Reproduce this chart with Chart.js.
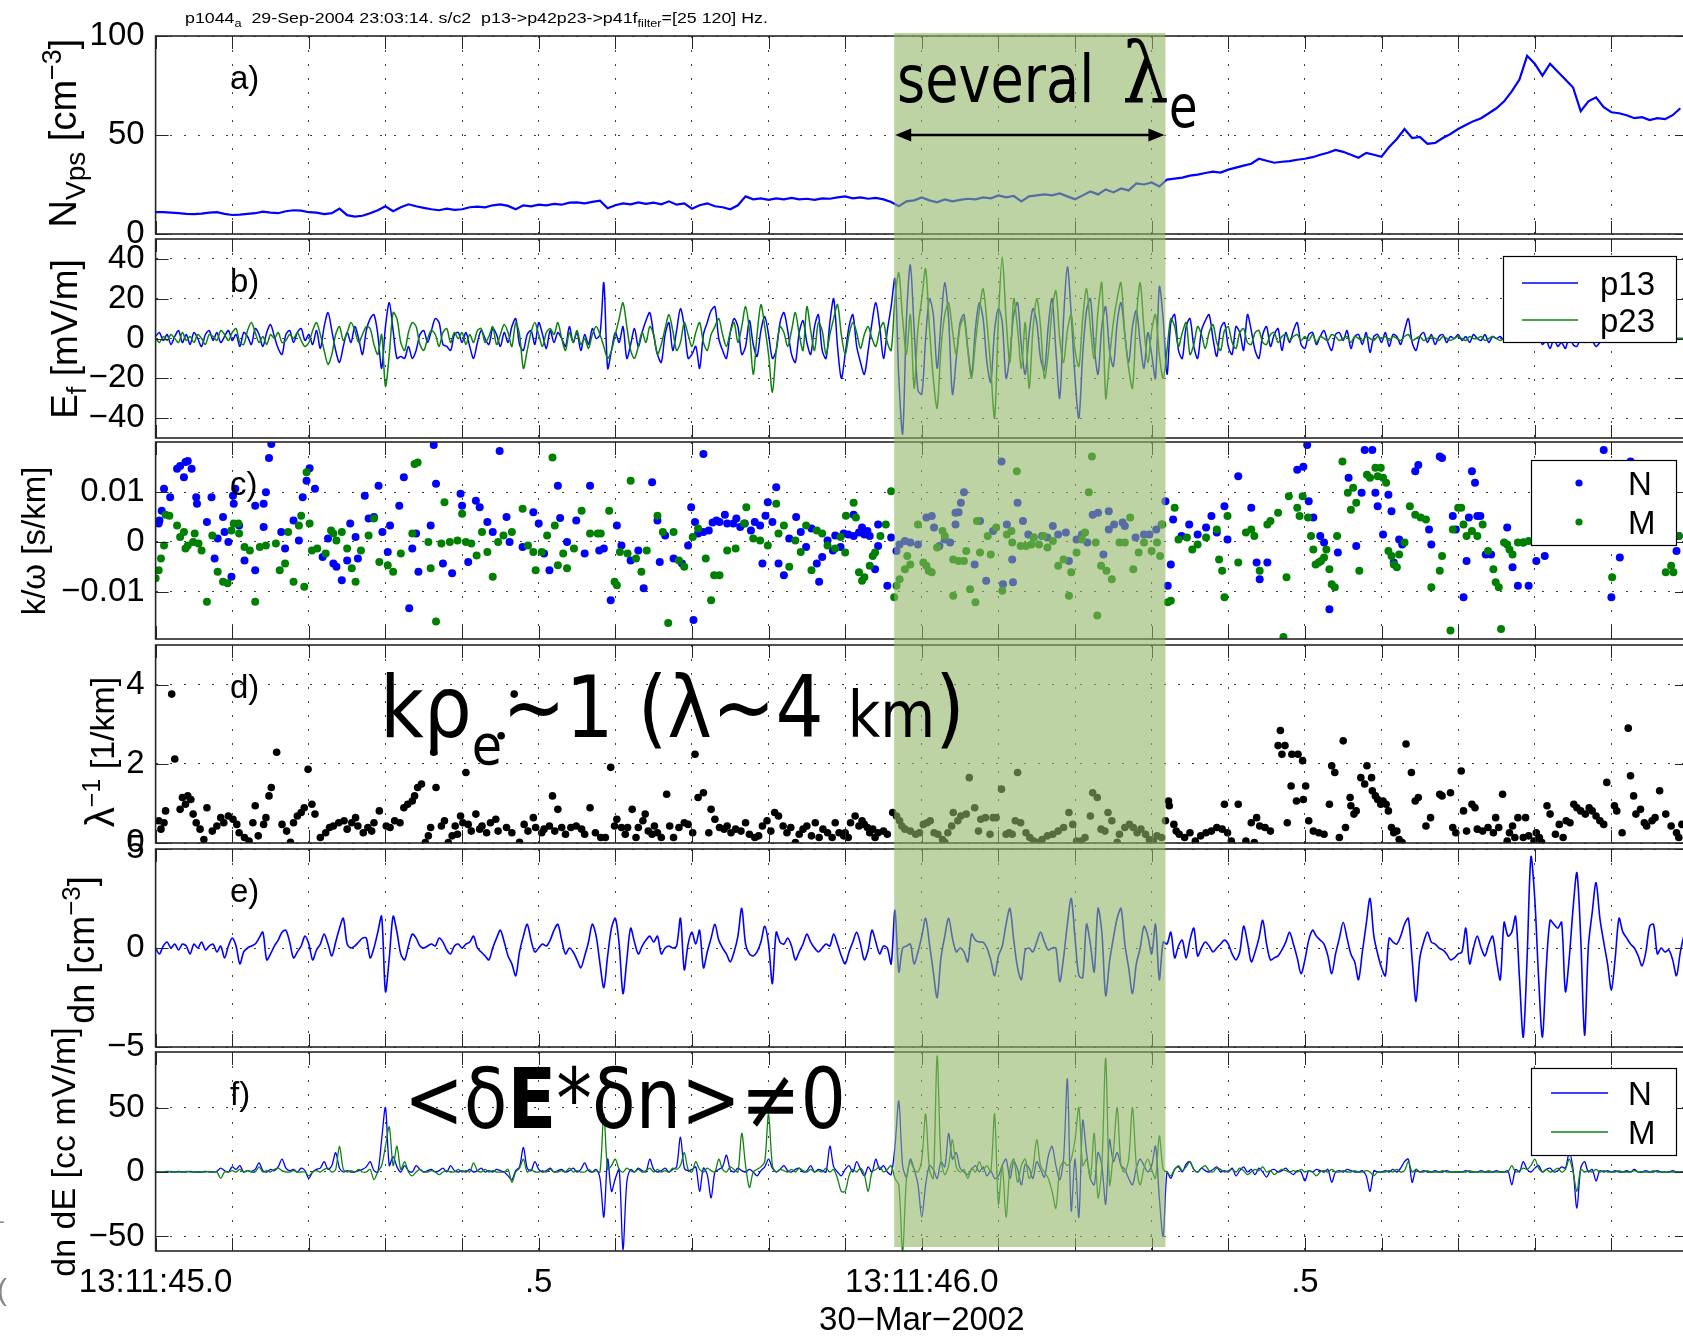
<!DOCTYPE html>
<html><head><meta charset="utf-8">
<script src="https://cdn.jsdelivr.net/npm/chart.js@4.4.1/dist/chart.umd.min.js"></script>
<style>
html,body{margin:0;padding:0;background:#fff;overflow:hidden;width:1683px;height:1337px;}
#root{position:relative;width:1683px;height:1337px;overflow:hidden;background:#fff;}
</style></head>
<body><div id="root"></div>
<script>
// ---------------- DATA ----------------
const xTickVals = [0, 0.5, 1.0, 1.5];
const xTickText = ['13:11:45.0', '.5', '13:11:46.0', '.5'];
const xTitle = '30\u2212Mar\u22122002';
const bandStart = 0.964, bandEnd = 1.318;

const aTicks = [0, 50, 100];           const aLabels = ['0', '50', '100'];
const bTicks = [-40, -20, 0, 20, 40];  const bLabels = ['\u221240', '\u221220', '0', '20', '40'];
const cTicks = [-0.01, 0, 0.01];       const cLabels = ['\u22120.01', '0', '0.01'];
const dTicks = [0, 2, 4];              const dLabels = ['0', '2', '4'];
const eTicks = [-5, 0, 5];             const eLabels = ['\u22125', '0', '5'];
const fTicks = [-50, 0, 50];           const fLabels = ['\u221250', '0', '50'];

const aStep = 0.01;   // s, density samples
const wStep = 0.005;  // s, waveform samples

// a) N_Vps [cm^-3]
const nVps = [
11.0,11.0,10.8,10.5,10.2,10.0,10.3,10.8,11.0,10.2,
9.6,9.8,10.2,10.5,11.3,10.8,10.5,11.5,12.0,11.8,
11.0,10.8,10.0,10.5,12.8,9.5,8.8,9.2,10.5,12.0,
14.0,11.5,13.5,15.0,14.0,13.2,12.5,12.0,12.8,12.2,
12.5,13.5,13.8,13.5,14.5,15.0,14.2,12.5,14.5,14.0,
14.8,14.5,15.2,14.8,15.8,16.0,15.5,16.2,16.8,13.0,
14.5,15.5,15.0,16.0,15.2,15.8,15.0,16.5,14.8,15.5,
12.8,14.5,15.5,14.0,13.5,12.5,14.5,19.0,17.5,18.0,
17.2,18.0,17.5,18.2,17.5,17.8,17.2,18.0,17.8,18.5,
19.0,18.0,18.5,17.8,18.2,17.5,16.2,14.0,16.5,17.0,
18.5,17.0,16.0,17.5,16.5,17.2,17.8,17.5,18.5,18.0,
19.5,18.5,19.2,16.5,19.0,19.5,20.0,19.5,20.5,19.0,
17.5,19.5,21.5,20.0,22.5,21.0,23.0,22.0,25.5,25.0,
26.0,24.0,27.5,28.0,28.5,29.5,30.0,30.8,31.5,31.0,
32.5,33.5,34.5,35.5,38.0,37.0,36.0,36.5,36.8,37.5,
38.0,38.8,40.0,41.0,42.5,41.5,40.0,38.5,41.0,40.0,
39.0,44.0,48.0,53.0,48.5,49.0,45.5,46.0,48.5,50.5,
53.0,55.0,57.0,58.5,61.0,63.5,67.0,72.0,78.0,90.0,
86.0,80.0,86.0,82.0,78.0,74.0,62.0,67.0,69.0,64.0,
61.5,61.0,60.0,58.5,59.0,57.5,58.5,58.0,60.0,63.5];

// b) E_f [mV/m]
const p13 = [
1,3,-1,2,-3,1,4,-2,2,-3,3,0,-4,2,4,-1,3,-2,1,4,
-1,2,-4,3,1,-3,5,2,-4,3,7,1,-5,-8,2,4,-2,3,5,-1,
2,-3,4,-5,6,13,4,-6,-12,-4,3,-2,6,0,-8,4,10,12,2,-15,
6,18,4,-10,-9,-10,-4,-10,-6,2,4,-2,4,10,8,-3,-4,-6,2,3,
-2,3,-4,-10,-2,4,0,-3,5,2,-4,3,-2,6,10,-3,-6,2,4,-3,
8,2,-5,4,-2,3,0,-4,6,-2,3,-6,2,-3,5,0,2,28,-15,-6,
3,-2,6,-10,-3,5,-4,3,9,13,2,-8,-12,2,8,-6,4,15,6,-10,
-8,-4,-15,2,8,14,16,0,-6,-10,3,10,6,-8,-4,9,-3,-9,4,11,
2,-10,-6,8,13,4,-8,-12,3,9,-2,-8,6,12,-6,-10,8,20,-4,-20,
-8,6,12,-4,-12,-18,-6,8,18,6,-10,4,16,30,-20,-48,10,37,5,-26,
-28,0,20,12,-15,8,28,10,-28,-10,8,12,-5,-18,5,18,10,-12,-22,4,
15,8,-20,-8,12,18,-4,-18,2,15,8,-10,-16,6,20,-6,-30,10,36,12,
-20,-40,-8,14,20,-4,-18,6,16,-6,-14,8,18,2,-12,6,14,-2,-15,3,
-8,-20,26,10,-18,8,12,-6,-10,6,10,-4,-10,4,9,12,0,-9,5,8,
-4,-8,6,3,-6,12,4,-6,-10,2,6,-4,2,5,-6,3,-2,4,8,-3,
-5,2,3,-3,1,4,-2,-6,2,3,-1,4,-5,1,2,-3,3,-7,1,2,
-2,3,-4,2,1,-3,4,10,-2,-6,1,3,-2,2,-3,1,2,-2,1,0,
2,-1,1,-2,2,0,-1,2,-2,1,0,1,-1,2,-1,0,1,-2,1,0,
-1,1,-3,-1,-5,0,-4,-2,-5,1,-3,-4,0,-2,1,-1,-4,-2,0,1,
-1,1,0,-1,1,0,-1,1,0,1,-1,0,1,0,-1,0,1,0,0,0];
const p23 = [
0,-2,1,-1,2,0,-2,3,-1,1,-2,2,0,-3,2,1,-1,4,2,-1,
3,5,-2,-3,4,8,3,-2,1,-3,2,0,3,-2,-1,2,0,3,-1,-4,
-2,4,8,2,-6,-13,-8,2,6,-1,3,8,4,-2,2,6,5,-3,-8,2,
-24,-8,13,10,-2,-6,3,8,6,-3,-6,0,4,2,-4,3,5,-2,3,0,
3,-3,2,-2,4,5,-2,1,6,-3,2,7,3,-4,8,2,-15,-6,3,8,
2,-4,3,5,2,8,0,-6,3,-2,4,-3,0,-5,2,6,2,-4,-10,-6,
2,10,18,6,-6,-10,-4,3,-2,6,2,-8,-3,5,12,4,-6,-2,8,2,
-4,3,8,-2,-6,2,6,10,2,-4,3,8,-2,6,16,4,-18,2,17,6,
-8,-27,-6,6,3,-4,4,13,2,-6,16,4,-6,8,4,-8,2,10,17,2,
-8,2,8,3,-5,2,6,0,-4,4,8,-2,-6,20,33,10,-8,12,-25,5,
20,35,5,-20,-35,-5,12,18,4,-8,6,10,-6,-20,-2,14,25,8,-15,-40,
10,41,10,-12,20,5,-15,8,-25,4,20,6,-20,-8,14,24,0,-12,4,12,
-6,-14,10,25,6,-10,14,28,-30,-10,8,20,28,2,-15,-25,10,28,5,-12,
4,12,-8,-20,-6,10,6,-4,3,8,-8,-3,6,2,-5,3,7,-2,-6,4,
6,-2,-5,3,5,-2,-3,3,4,-2,-3,2,3,-2,1,2,-1,1,2,-1,
1,-1,2,-2,1,0,-1,2,1,-1,0,1,-2,1,0,-1,1,0,-1,1,
0,1,-1,1,0,-1,1,2,-1,0,1,-1,0,1,0,-1,1,0,-1,0,
1,0,-1,1,0,0,1,-1,0,1,0,-1,0,1,0,0,-1,1,0,0,
1,0,-1,0,1,0,-1,0,1,0,-1,0,1,0,0,-1,0,1,0,0,
0,1,0,-1,0,1,0,0,-1,0,1,0,0,-1,0,1,0,0,0,0];

// c) k/omega [s/km]  [time s, value]
const kwN = [[.004,.0037],[.005,.0043],[.008,.0063],[.011,.0107],[.019,.009],[.028,.0147],[.032,.0153],[.037,.013],[.039,.0161],[.042,.0163],[.047,.0147],[.053,.009],[.054,.0077],[.067,.004],[.073,.009],[.077,-.0033],[.081,.0007],[.088,.005],[.09,.002],[.095,0],[.099,-.007],[.101,.0093],[.102,.0077],[.104,.0107],[.109,.0033],[.116,-.0037],[.13,-.0057],[.13,.0073],[.141,.0077],[.144,.01],[.148,.0169],[.151,.0197],[.141,.003],[.164,.002],[.169,-.0013],[.18,.0043],[.187,.0003],[.192,.009],[.197,.0123],[.201,.0148],[.208,.0107],[.218,-.003],[.225,.0007],[.232,-.0043],[.236,-.005],[.243,-.0077],[.25,-.0037],[.254,.0037],[.261,.001],[.264,-.0033],[.273,.0093],[.278,.0047],[.285,.005],[.291,.0113],[.296,.002],[.303,-.002],[.306,.0033],[.318,.0073],[.324,.013],[.331,-.0133],[.335,-.0013],[.34,.0017],[.343,-.006],[.359,.0033],[.363,.0195],[.366,.0117],[.375,-.0043],[.387,-.0063],[.398,.0097],[.4,.0073],[.408,-.004],[.418,.0083],[.423,.007],[.433,.004],[.44,.002],[.449,.0183],[.458,.005],[.462,0],[.479,-.001],[.493,.006],[.5,.0037],[.507,-.0023],[.514,-.0057],[.525,.0113],[.528,.0048],[.537,0],[.549,.0043],[.56,-.0023],[.567,.0113],[.579,-.0017],[.585,-.0013],[.594,-.0117],[.602,.0033],[.608,-.0007],[.62,-.0037],[.63,-.0017],[.637,-.0093],[.648,.012],[.655,.0043],[.658,-.004],[.665,.0013],[.676,-.0033],[.687,-.0043],[.695,-.0007],[.699,.007],[.702,-.0157],[.704,.004],[.708,.0017],[.715,.0177],[.715,.002],[.722,.0023],[.727,.0039],[.732,.0043],[.736,.004],[.743,.0055],[.746,.0037],[.754,.0037],[.758,.0047],[.763,.003],[.769,.0037],[.777,.0023],[.782,.004],[.789,.0033],[.792,-.0043],[.796,.0053],[.799,.008],[.805,.004],[.81,.011],[.813,-.0043],[.82,-.0067],[.827,.0007],[.836,.005],[.842,.002],[.849,-.001],[.856,.0027],[.863,-.0043],[.866,-.008],[.87,-.003],[.877,.0003],[.884,-.0017],[.887,.0013],[.894,-.001],[.898,.0017],
[.904,.0015],[.911,.0055],[.911,.0012],[.918,.0019],[.922,.0029],[.925,.0015],[.929,.0022],[.932,.0012],[.939,-.0055],[.943,-.0008],[.943,.0035],[.955,-.0088],[.96,.0009],[.967,-.0018],[.971,-.0005],[.978,.0002],[.985,-.0001],[.995,-.0005],[1.006,.0049],[1.013,.0052],[1.016,.0029],[1.023,-.0008],[1.03,.0005],[1.037,-.0001],[1.044,.0059],[1.048,.006],[1.051,.0079],[1.055,.01],[1.044,.0035],[1.069,-.0045],[1.076,.0042],[1.084,-.0078],[1.093,.0022],[1.104,.0162],[1.106,-.0085],[1.111,.0035],[1.118,-.0035],[1.119,-.0081],[1.125,.0079],[1.132,.0042],[1.139,.0015],[1.146,.0009],[1.157,.0012],[1.164,.0009],[1.171,.0032],[1.178,.0015],[1.188,.0019],[1.192,-.0038],[1.202,.0005],[1.209,.0015],[1.216,-.0001],[1.223,.0055],[1.23,.0059],[1.237,-.0025],[1.244,.0062],[1.244,.0025],[1.251,.0035],[1.262,.0039],[1.265,.0032],[1.279,.0009],[1.29,.0015],[1.297,.0015],[1.306,.0025],[1.313,.0035],[1.318,.0082],[1.321,-.0088],[1.325,-.0045],[1.328,.0045],[1.339,.0012],[1.349,.0035],[1.36,.0015],[1.371,.0029],[1.378,.0052],[1.385,.0019],[1.395,.0072],[1.399,.0005],[1.413,.0132],[1.43,.0069],[1.437,-.0041],[1.441,-.0075],[1.451,-.0041],[1.49,.0145],[1.498,.0151],[1.503,.0195],[1.505,.0082],[1.511,.0049],[1.52,.0012],[1.525,-.0001],[1.532,-.0135],[1.543,-.0021],[1.557,.0129],[1.567,-.0008],[1.574,.0099],[1.578,.0185],[1.588,.0185],[1.592,.0099],[1.595,.0072],[1.602,.0015],[1.609,.0095],[1.613,.0062],[1.616,-.0041],[1.623,.0005],[1.627,-.0005],[1.644,.0142],[1.648,.0155],[1.662,.0025],[1.665,-.0005],[1.676,.0172],[1.679,.0169],[1.693,.0052],[1.697,.0025],[1.707,-.0111],[1.711,-.0038],[1.714,.0049],[1.718,.0142],[1.722,.0119],[1.725,.0052],[1.729,.0052],[1.736,-.0025],[1.743,-.0025],[1.764,.0029],[1.771,-.0051],[1.778,-.0088],[1.785,-.0001],[1.792,-.0088],[1.802,-.0038],[1.813,-.0028],[1.89,.0185],[1.9,-.0111],[1.911,-.0031],[1.925,.0162],[1.985,-.0018],[1.988,.0012]];
const kwM = [[0,-.0073],[.004,-.0057],[.007,-.0033],[.011,-.0007],[.013,.0055],[.018,.0053],[.028,.0033],[.032,.001],[.037,.002],[.039,-.0013],[.042,-.0007],[.049,0],[.051,.0017],[.056,-.0003],[.06,-.0017],[.067,-.012],[.074,.0013],[.081,-.006],[.088,-.008],[.094,-.0083],[.099,.0023],[.102,.0037],[.108,.0037],[.109,.0017],[.116,-.001],[.123,-.0017],[.13,-.012],[.136,-.001],[.144,-.0007],[.157,-.0003],[.162,-.0057],[.169,-.0043],[.173,.002],[.18,-.008],[.187,.0033],[.19,.0053],[.194,-.009],[.197,.014],[.201,.0037],[.204,-.0017],[.211,-.0013],[.222,-.0023],[.229,.0023],[.232,.0017],[.236,.0003],[.243,.002],[.25,-.0013],[.256,-.0053],[.261,-.008],[.268,-.0017],[.278,.0013],[.285,.0047],[.292,-.004],[.303,-.0047],[.31,-.006],[.32,-.0023],[.335,.0017],[.338,.0157],[.342,.016],[.356,0],[.359,-.0053],[.366,-.016],[.373,-.0003],[.377,.008],[.384,0],[.394,.0003],[.4,.0057],[.405,0],[.412,-.0003],[.419,-.0027],[.426,.002],[.433,-.002],[.44,-.007],[.447,0],[.454,.0013],[.465,.002],[.479,.0067],[.486,-.0007],[.493,-.002],[.496,-.0057],[.504,-.002],[.511,.0013],[.518,.017],[.521,.0033],[.525,-.0047],[.532,-.0023],[.537,-.0053],[.546,-.0013],[.556,.0063],[.567,.0017],[.577,.0017],[.581,.0017],[.592,.0063],[.599,-.008],[.602,-.0087],[.606,-.002],[.616,-.0023],[.62,.0123],[.627,-.0033],[.634,-.006],[.641,-.0017],[.655,.0053],[.662,.002],[.669,-.0163],[.676,.002],[.683,-.0037],[.69,-.005],[.701,.001],[.708,.0027],[.718,-.0033],[.725,-.0117],[.729,-.0067],[.736,-.0067],[.746,-.0017],[.757,-.0013],[.768,.0037],[.771,.007],[.78,.0007],[.789,.0003],[.799,-.0007],[.81,.0077],[.813,.0017],[.82,.0033],[.827,-.005],[.835,.0003],[.842,-.002],[.849,.0033],[.856,-.0057],[.863,.0023],[.87,.0017],[.877,-.0007],[.887,-.0013],[.894,.001],[.901,.0053],
[.9,-.0021],[.911,.0079],[.914,.0049],[.918,-.0061],[.922,-.0078],[.925,-.0071],[.932,-.0048],[.936,-.0028],[.939,-.0021],[.946,.0012],[.953,.0035],[.96,.0102],[.964,-.0111],[.967,-.0088],[.971,-.0075],[.978,-.0055],[.981,-.0028],[.985,-.0045],[.995,.0035],[1.002,-.0041],[1.006,-.0048],[1.009,-.0058],[1.013,-.0061],[1.02,-.0011],[1.027,.0022],[1.03,.0012],[1.041,-.0108],[1.041,-.0035],[1.048,-.0038],[1.055,-.0038],[1.058,-.0018],[1.063,-.0095],[1.07,-.0121],[1.072,.0042],[1.076,-.0021],[1.086,.0012],[1.09,-.0025],[1.097,.0029],[1.105,-.0098],[1.111,.0015],[1.117,.0022],[1.118,-.0001],[1.124,.0142],[1.129,-.0008],[1.136,-.0008],[1.143,-.0005],[1.146,.0009],[1.153,-.0005],[1.159,.0012],[1.164,-.0011],[1.171,.0002],[1.178,-.0048],[1.185,-.0035],[1.192,-.0108],[1.195,-.0061],[1.202,-.0021],[1.209,.0005],[1.213,.0019],[1.218,.01],[1.222,.0172],[1.227,-.0001],[1.229,-.0148],[1.234,-.0048],[1.241,-.0058],[1.248,-.0075],[1.258,-.0001],[1.265,-.0001],[1.272,.0049],[1.276,-.0055],[1.283,-.0021],[1.29,-.0001],[1.3,-.0018],[1.307,-.0001],[1.311,-.0028],[1.314,.0035],[1.321,-.0121],[1.325,-.0118],[1.33,.0069],[1.335,.0005],[1.346,.0009],[1.353,-.0015],[1.36,-.0005],[1.371,.0009],[1.385,.0025],[1.388,-.0035],[1.392,-.0058],[1.395,-.0111],[1.399,.0052],[1.413,-.0041],[1.423,.0019],[1.43,.0025],[1.434,.0012],[1.441,-.0058],[1.451,.0035],[1.455,.0042],[1.465,.0059],[1.472,-.0191],[1.476,-.0071],[1.479,.0092],[1.49,.0069],[1.493,.0052],[1.497,.0092],[1.504,.0049],[1.508,.0012],[1.511,-.0015],[1.514,-.0045],[1.518,-.0041],[1.521,-.0038],[1.525,-.0031],[1.528,-.0015],[1.532,-.0055],[1.535,-.0085],[1.539,-.0091],[1.542,.0012],[1.549,.0162],[1.556,.0099],[1.56,.0065],[1.563,.0109],[1.567,.0079],[1.571,-.0058],[1.581,.0135],[1.585,.0129],[1.592,.0149],[1.595,.0132],[1.599,.0149],[1.602,.0129],[1.606,.0119],[1.609,-.0018],[1.613,-.0028],[1.616,-.0045],[1.62,-.0051],[1.623,-.0025],[1.63,-.0001],[1.637,.0072],[1.644,.0055],[1.651,.0049],[1.658,.0045],[1.665,-.0091],[1.676,-.0058],[1.679,-.0028],[1.69,-.0178],[1.693,.0025],[1.7,.0069],[1.704,.0069],[1.707,.0035],[1.711,.0012],[1.718,.0022],[1.725,.0012],[1.732,.0035],[1.739,-.0018],[1.746,-.0055],[1.749,-.0081],[1.753,-.0091],[1.756,-.0175],[1.76,-.0001],[1.764,-.0005],[1.767,-.0015],[1.771,-.0025],[1.778,-.0001],[1.785,-.0001],[1.792,.0002],[1.901,-.0071],[1.971,-.0061],[1.978,-.0048],[1.981,-.0061],[1.988,.0012]];

// d) lambda^-1 [1/km]  [time s, value]
const lamInv = [[.004,.56],[.007,.35],[.011,.51],[.013,.81],[.021,3.76],[.025,2.12],[.032,.85],[.035,1.15],[.039,.98],[.042,1.19],[.046,1.1],[.049,.73],[.053,.51],[.058,.35],[.063,.09],[.067,.89],[.074,.3],[.08,.43],[.085,.64],[.089,.51],[.095,.68],[.101,.6],[.106,.47],[.109,.26],[.116,.14],[.122,.05],[.127,.51],[.13,.94],[.134,.18],[.141,.47],[.144,.64],[.148,1.19],[.151,1.4],[.158,2.29],[.165,.47],[.171,.3],[.176,.02],[.18,.51],[.185,.68],[.19,.77],[.194,.89],[.199,1.86],[.204,.98],[.208,.73],[.215,.14],[.222,.26],[.227,.39],[.232,.43],[.239,.51],[.246,.56],[.25,.35],[.256,.51],[.261,.64],[.264,.43],[.271,.26],[.277,.39],[.282,.3],[.285,.51],[.292,.81],[.301,.43],[.306,.39],[.312,.56],[.319,.51],[.324,.89],[.329,.98],[.335,1.06],[.338,1.19],[.342,1.4],[.347,1.49],[.352,.01],[.356,.18],[.359,.39],[.363,2.29],[.366,1.4],[.373,.43],[.377,.56],[.382,.01],[.387,.18],[.391,.43],[.394,.22],[.398,.68],[.401,.51],[.405,1.78],[.408,.47],[.412,.3],[.418,.73],[.423,.35],[.426,.43],[.432,.26],[.437,.51],[.444,.6],[.447,.3],[.451,2.71],[.458,.39],[.465,.26],[.468,3.76],[.475,.02],[.481,.47],[.486,.3],[.493,.64],[.496,.39],[.504,.26],[.507,.35],[.514,.43],[.518,1.19],[.521,.3],[.525,.85],[.53,.39],[.535,.22],[.542,.39],[.549,.43],[.556,.35],[.56,.22],[.567,.89],[.574,.26],[.581,.14],[.587,.14],[.594,1.91],[.599,.43],[.602,.6],[.608,.39],[.613,.22],[.616,.39],[.622,.85],[.627,.14],[.63,.39],[.636,.56],[.639,.73],[.643,.3],[.648,.22],[.651,.43],[.655,.26],[.66,.14],[.667,1.23],[.671,.43],[.676,.14],[.683,.39],[.69,.51],[.695,.47],[.701,.26],[.704,2.24],[.708,1.15],[.715,1.27],[.722,.26],[.725,.85],[.73,.6],[.736,.39],[.742,.35],[.746,.43],[.751,.26],[.757,.35],[.764,.3],[.77,.51],[.775,.22],[.782,.14],[.787,.18],[.792,.43],[.798,.56],[.803,.3],[.808,.77],[.813,.68],[.819,.43],[.824,.26],[.829,.39],[.835,.01],[.84,.22],[.845,.35],[.85,.43],[.856,.18],[.861,.51],[.866,.14],[.871,.35],[.877,.26],[.883,.14],[.887,.51],[.892,.26],[.898,.18],
[.9,.26],[.904,.14],[.907,.51],[.913,.68],[.918,.43],[.922,.56],[.925,.47],[.929,.39],[.932,.26],[.936,.35],[.939,.14],[.943,.26],[.95,.3],[.955,.22],[.962,.77],[.967,.68],[.971,.56],[.974,.43],[.978,.35],[.985,.3],[.992,.22],[.997,.26],[1.002,.47],[1.007,.51],[1.011,.56],[1.016,.26],[1.021,.22],[1.027,.09],[1.03,.02],[1.034,.26],[1.039,.43],[1.041,.77],[1.047,.56],[1.051,.68],[1.058,.73],[1.062,1.65],[1.069,.89],[1.074,.3],[1.077,.6],[1.083,.64],[1.089,.22],[1.093,.64],[1.097,.64],[1.104,1.36],[1.11,.22],[1.114,.26],[1.118,.22],[1.122,.56],[1.125,1.78],[1.129,.51],[1.136,.26],[1.141,.14],[1.146,.05],[1.152,.01],[1.157,.09],[1.164,.18],[1.171,.22],[1.178,.3],[1.185,.39],[1.192,.77],[1.197,.47],[1.202,.05],[1.208,.05],[1.213,.14],[1.22,.68],[1.223,1.27],[1.229,1.15],[1.234,.35],[1.239,.3],[1.243,.77],[1.248,.56],[1.255,.02],[1.258,.22],[1.265,.39],[1.271,.47],[1.276,.39],[1.281,.26],[1.286,.35],[1.292,.22],[1.297,.09],[1.302,.05],[1.307,.18],[1.313,.14],[1.318,.56],[1.322,1.06],[1.323,.94],[1.329,.47],[1.332,.3],[1.336,.22],[1.343,.14],[1.35,.26],[1.357,.05],[1.364,.18],[1.371,.26],[1.378,.3],[1.385,.39],[1.392,.35],[1.395,.98],[1.399,.26],[1.404,.05],[1.413,.98],[1.423,.05],[1.43,.51],[1.434,.01],[1.437,.64],[1.441,.43],[1.448,.39],[1.455,.3],[1.465,2.46],[1.468,2.84],[1.47,2.24],[1.474,2.46],[1.477,.51],[1.482,1.44],[1.483,2.24],[1.489,1.06],[1.491,2.24],[1.497,2.08],[1.498,1.1],[1.501,1.44],[1.505,.56],[1.511,.3],[1.518,.26],[1.525,.22],[1.532,.98],[1.535,1.95],[1.539,1.78],[1.545,.14],[1.55,2.58],[1.553,.39],[1.559,1.15],[1.56,.94],[1.564,.73],[1.567,.81],[1.573,1.65],[1.578,1.49],[1.581,1.95],[1.587,1.65],[1.588,1.32],[1.592,1.19],[1.595,1.1],[1.599,.98],[1.602,1.06],[1.606,.98],[1.609,.81],[1.613,.39],[1.616,.26],[1.62,.3],[1.623,.09],[1.627,.01],[1.632,2.5],[1.639,1.78],[1.644,1.06],[1.648,1.15],[1.658,.43],[1.664,.64],[1.676,1.23],[1.679,1.19],[1.69,1.27],[1.693,.39],[1.697,.26],[1.704,1.82],[1.707,.81],[1.711,.3],[1.718,.98],[1.722,.89],[1.725,.35],[1.732,.3],[1.739,.39],[1.746,.26],[1.749,.64],[1.753,.39],[1.758,1.23],[1.764,.05],[1.767,.26],[1.771,.43],[1.774,.14],[1.778,.64],[1.785,.14],[1.788,.64],[1.792,.18],[1.799,.05],[1.802,.26],[1.806,.14],[1.809,.02],[1.816,.94],[1.82,.73],[1.827,.22],[1.832,.47],[1.837,.14],[1.841,.56],[1.846,.51],[1.851,.98],[1.855,.89],[1.86,.81],[1.866,.73],[1.871,.89],[1.875,.81],[1.88,.68],[1.885,.56],[1.89,.47],[1.894,1.53],[1.904,.94],[1.907,.81],[1.914,.26],[1.922,2.9],[1.925,1.7],[1.929,1.19],[1.932,.73],[1.938,.85],[1.943,.51],[1.946,.43],[1.953,.56],[1.957,.64],[1.963,1.32],[1.971,.73],[1.978,.43],[1.985,.26],[1.988,.14],[1.992,.47]];

// e) dn [cm^-3]
const dn = [
0,-0.3,0.1,0.3,0,0.2,-0.1,0.2,0.1,-0.3,0.2,0,0.3,-0.1,0.1,0.2,-0.2,0.1,-0.5,0.1,
0.5,0.1,-0.8,-0.2,0,0.1,0.2,0.5,0.8,-0.6,-0.3,0.1,0.4,0.8,0.9,0.3,-0.5,-0.2,0.1,0.6,
0.2,-0.6,-0.1,0.2,0.7,0.2,-0.4,0.3,1.0,1.5,0.2,0,0.1,0.3,0.5,0.5,-0.5,0,0.8,1.6,
-2.2,-0.5,1.6,0.8,-0.3,-0.6,0.1,0.7,0.5,0.1,0,0.1,0.2,0.1,0.5,0.3,-0.1,-0.3,0.1,0.2,
0,0.2,0.3,0.6,0,-0.2,-0.4,-0.6,0,0.5,0.9,0.3,-0.4,-0.8,-1.4,-0.2,0.6,1.2,0.4,-0.2,
0,0.2,0.1,0.4,0.9,1.2,0.4,-0.3,0,-0.2,-0.6,-1.0,-0.4,0.3,1.2,0.6,-0.8,-2.0,-0.4,1.0,
1.5,0.2,-2.3,-0.6,1.0,0.3,-0.3,0.1,0.4,0.6,0.3,0.6,-0.3,0,0.1,0,0.1,1.5,-1.1,0.2,
0.8,0.2,0.9,-1.0,-0.2,0.5,1.2,0.4,0,-0.3,-0.7,-0.2,0.6,2.0,0.2,-0.3,-0.4,-0.2,0.3,1.1,
0.2,-1.8,0.8,0.3,0.2,0.5,0.1,-0.6,-0.2,0.2,0.7,0.3,0,-0.2,0,0.2,0.1,0.7,0.2,-0.4,
-0.8,-0.2,0.3,0.8,0.2,-0.6,-0.1,0.9,0.3,-0.3,0.1,0,-0.8,1.9,-1.2,0,0.1,0.2,-0.8,-0.2,
0.6,1.5,0.2,-1.2,-2.5,-0.5,0.6,1.5,0.5,-0.2,0,-0.2,-0.7,0.7,0.4,0.3,0.3,0,-0.6,-1.4,
-0.4,0.1,1.2,2.0,0.4,-1.0,-1.6,-0.1,0,-0.2,0.3,0.8,0.3,-0.1,0,0,-1.7,-0.5,1.2,2.5,
0.5,-1.4,-1.5,1.2,0.2,-1.2,2.0,0.8,-2.4,-0.7,0.5,1.5,2.0,0.2,-1.0,-2.3,-0.8,0,1.1,0.6,
-0.3,1.2,-1.6,0.3,0.2,0.8,-0.5,0.1,0.4,-0.5,0.4,1.0,-0.4,0,0.3,0.1,-0.2,0,0.2,0.4,
0.2,-0.3,-0.6,-0.2,1.1,0.3,-0.7,-0.2,0.5,1.4,0.2,-0.6,-0.5,-0.4,-0.1,0.3,0.8,0.2,-0.5,-1.3,
-0.6,0.4,0.9,0.6,0.4,0.2,-0.4,-1.3,-0.3,0.5,1.3,0.5,-0.3,-0.7,-1.6,-0.2,1.2,2.5,0.6,-0.3,
-1.0,-1.4,0.5,0.3,0.2,0.6,1.2,1.5,-0.6,-2.7,-0.5,0.3,0.8,0.3,0.2,0,-0.1,-0.3,-0.6,-0.5,
-0.3,-0.2,1.0,-0.8,0,0.6,0,-0.4,0.2,0.6,-0.6,-1.6,1.3,0.6,0.8,1.6,-1.5,-4.5,-0.5,4.6,
2.5,-1.5,-4.5,-1.0,1.4,1.2,1.0,1.3,-2.2,-0.5,2.0,3.8,0.5,-4.4,0.1,1.8,3.3,1.5,0.3,-0.8,
-2.1,-0.5,1.5,0.8,0.5,0.2,0,-0.4,-0.9,-0.2,1.1,1.2,-0.3,0,-0.2,-0.1,-0.6,-1.4,-0.2,0.7];

// f) dn dE [cc mV/m]
const dndEN = [
0,0,0,0.5,0,0,0.5,0,0,0.5,0,0,0,0.5,0,0,0.5,3,1,0,
4,2,5,0,1,0.5,2,7,1,0,2,1,4,10,3,1,2,0,3,1,
-5,0,2,3,8,2,5,15,3,0,1,0,0,1,2,4,8,1,0,25,
50,5,12,4,0,5,1,0,5,2,0,1,2,0,1,3,0,5,1,0,
1,0,2,0,1,3,0,1,0,2,1,0,-3,-6,1,4,19,3,1,8,
2,0,1,3,0,1,2,0,1,3,0,2,7,1,0,2,-5,-35,10,-15,
-5,2,-60,-8,2,0,3,1,0,10,2,0,1,3,0,2,4,27,3,1,
2,4,-15,3,-2,-20,0,2,4,13,2,0,3,1,0,2,0,-3,1,4,
10,3,0,2,5,1,0,2,3,0,1,5,0,2,1,0,20,4,0,-3,
2,5,0,8,2,-3,4,0,10,2,5,0,-2,20,55,5,-4,10,2,-10,
-35,-10,5,2,-5,8,4,30,10,15,3,0,-2,2,5,0,4,-3,1,-5,
-3,5,10,-5,8,2,-10,6,3,-5,8,2,-4,12,20,5,-6,10,72,-30,
10,-35,40,15,-5,-10,15,5,-25,25,8,15,5,2,-5,-10,3,10,5,0,
5,20,-20,-50,0,-5,2,4,0,6,8,2,0,3,1,0,2,4,0,1,
0,3,-3,1,4,0,2,-2,3,0,-4,1,2,0,1,3,0,-2,1,0,
-7,1,0,2,1,0,2,-8,0,1,0,2,1,0,0,1,-3,-15,1,0,
0,1,0,2,0,3,8,10,-8,2,0,1,0,0,1,0,0,1,0,0,
0,0,1,0,0,0,1,0,0,0,1,0,0,1,-10,2,0,8,2,0,
3,5,0,2,3,0,1,4,3,15,2,-28,3,8,0,2,-7,1,0,1,
0,1,0,0,1,0,2,0,0,1,0,0,1,0,0,0,1,0,0,0];
const dndEM = [
0,0,0,0,0.5,0,0,0,0.5,0,0,0,0,0,0.5,0,0,-5,0,0,
1,0,2,0,1,0,0,4,0,1,0,2,3,1,0,0,1,0,0,0,
-3,0,1,0,2,3,0,2,20,2,0,1,0,2,0,0,2,-6,0,5,
20,35,5,20,2,8,0,-3,0,2,0,0,1,0,-2,0,1,0,0,2,
0,1,0,7,1,0,2,0,1,0,0,0,2,-8,0,3,10,0,2,0,
0,1,0,2,0,0,1,0,3,0,1,0,0,2,0,1,0,45,2,5,
10,2,0,3,1,0,2,0,1,3,0,2,0,1,0,3,2,5,15,2,
0,8,2,0,3,1,0,10,2,0,4,2,0,30,5,-12,0,2,4,8,
45,5,0,2,1,0,2,0,3,1,0,2,0,1,0,3,0,2,-5,-15,
-15,-3,2,0,3,-2,-15,0,2,4,0,2,5,-5,-10,-62,-5,8,2,0,
10,45,2,-5,90,10,-2,5,25,4,0,2,-5,3,0,8,2,5,0,45,
-25,5,-35,2,10,-8,5,10,-5,3,25,5,0,-5,-15,-28,2,8,5,10,
25,50,5,10,-5,30,-20,5,88,-10,15,50,5,0,10,50,5,-10,3,10,
2,-5,28,2,0,-3,2,5,1,4,8,2,0,3,5,1,0,3,2,0,
1,2,0,3,1,-2,0,2,1,4,0,1,-2,0,2,1,0,1,0,2,
0,1,0,-3,0,1,0,2,0,0,1,0,0,1,0,0,1,0,-3,0,
0,0,1,0,2,0,1,8,0,2,0,0,1,0,0,0,1,0,0,0,
0,0,0,1,0,0,0,0,1,0,0,0,0,0,5,0,1,3,2,5,
10,3,0,2,0,1,3,0,2,10,0,-15,2,0,1,0,2,0,1,0,
0,0,1,0,0,0,1,0,0,0,0,1,0,0,0,0,0,0,0,0];

// ---------------- LAYOUT / STYLE ----------------
const LEFT = 155.6, RIGHT = 1688;
const BLUE = '#0000ff', GREEN = 'rgb(16,130,16)', DOTGREEN = 'rgb(0,128,0)';
const GRID = 'rgba(0,0,0,0.75)';
const P = {a:[36,234], b:[239,438], c:[442,639], d:[645,843], e:[849,1047], f:[1052,1251]};

Chart.defaults.font.family = '"Liberation Sans", Arial, sans-serif';
Chart.defaults.color = '#000';

const boxPlugin = {
  id: 'matlabBox',
  afterDraw(chart) {
    const {ctx, chartArea: a, scales: {x, y}} = chart;
    const L = 13;
    ctx.save();
    ctx.strokeStyle = '#262626';
    ctx.lineWidth = 1;
    ctx.beginPath();
    x.ticks.forEach(t => {
      const px = Math.round(x.getPixelForValue(t.value)) + 0.5;
      ctx.moveTo(px, a.top); ctx.lineTo(px, a.top + L);
      ctx.moveTo(px, a.bottom); ctx.lineTo(px, a.bottom - L);
    });
    y.ticks.forEach(t => {
      const py = Math.round(y.getPixelForValue(t.value)) + 0.5;
      ctx.moveTo(a.left, py); ctx.lineTo(a.left + L, py);
      ctx.moveTo(a.right, py); ctx.lineTo(a.right - L, py);
    });
    ctx.stroke();
    ctx.lineWidth = 1.6;
    ctx.strokeRect(a.left, a.top, a.right - a.left, a.bottom - a.top);
    ctx.restore();
  }
};

const root = document.getElementById('root');
function mkCanvas(left, top, w, h) {
  const c = document.createElement('canvas');
  c.width = Math.round(w); c.height = Math.round(h);
  c.style.cssText = 'position:absolute;left:' + left + 'px;top:' + top + 'px;width:' + Math.round(w) + 'px;height:' + Math.round(h) + 'px;';
  root.appendChild(c);
  return c;
}

function panelConfig(datasets, yMin, yMax, yTicks, yLabels, last, PADT, PADB, XH) {
  return {
    type: 'line',
    data: {datasets},
    options: {
      responsive: false, animation: false, devicePixelRatio: 1, events: [],
      layout: {padding: {top: PADT, bottom: PADB, left: 0, right: 0}},
      plugins: {legend: {display: false}, tooltip: {enabled: false}},
      scales: {
        x: {
          type: 'linear', min: 0, max: 2,
          afterFit: s => { s.height = XH; },
          grid: {color: GRID, lineWidth: 1, drawTicks: false},
          border: {display: false, dash: [2, 12]},
          ticks: {
            display: last, stepSize: 0.1, autoSkip: false, maxRotation: 0, minRotation: 0,
            padding: 12, font: {size: 33}, color: '#000',
            callback: v => { const k = xTickVals.findIndex(q => Math.abs(q - v) < 1e-6); return k < 0 ? '' : xTickText[k]; }
          },
          title: {display: last, text: xTitle, color: '#000', font: {size: 33, lineHeight: 1}, padding: {top: 0, bottom: 0}}
        },
        y: {
          type: 'linear', min: yMin, max: yMax,
          afterBuildTicks: s => { s.ticks = yTicks.map(v => ({value: v})); },
          afterFit: s => { s.width = LEFT; },
          grid: {color: GRID, lineWidth: 1, drawTicks: false},
          border: {display: false, dash: [2, 12]},
          ticks: {padding: 11, font: {size: 33}, color: '#000', callback: (v, i) => yLabels[i]}
        }
      }
    },
    plugins: [boxPlugin]
  };
}

// builds a panel, then nudges canvas placement so the plot box lands on the reference box
function makePanel(key, datasets, yMin, yMax, yTicks, yLabels, last) {
  const [T, B] = P[key];
  const PADT = 36, PADB = last ? 0 : 36;
  const XH = last ? (1337 - B) : 0;
  let left = 0, top = T - PADT, w = RIGHT, h = (B - T) + PADT + PADB + XH;
  let chart, cv;
  for (let it = 0; it < 3; it++) {
    cv = mkCanvas(left, top, w, h);
    chart = new Chart(cv, panelConfig(datasets, yMin, yMax, yTicks, yLabels, last, PADT, PADB, XH));
    const a = chart.chartArea;
    const eL = left + a.left - LEFT, eR = left + a.right - RIGHT;
    const eT = top + a.top - T, eB = top + a.bottom - B;
    if (Math.abs(eL) < 0.6 && Math.abs(eR) < 0.6 && Math.abs(eT) < 0.6 && Math.abs(eB) < 0.6) break;
    if (it === 2) break;
    chart.destroy(); cv.remove();
    left -= eL; w += eL - eR; top -= eT; h += eT - eB;
  }
  chart.$left = left;
  return chart;
}

const series = (arr, step) => arr.map((v, i) => ({x: i * step, y: v}));
const pairs = arr => arr.map(([t, v]) => ({x: t, y: v}));
const lineDS = (label, data, color, w, order) => ({label, data, borderColor: color, borderWidth: w, pointRadius: 0, tension: 0.3, fill: false, order});
const dotDS = (label, data, color, r, order) => ({label, data, showLine: false, pointRadius: r, pointBorderWidth: 0, pointBackgroundColor: color, backgroundColor: color, borderColor: color, order});

const chA = makePanel('a', [{...lineDS('N', series(nVps, aStep), BLUE, 2.2, 1), tension: 0}], 0, 100, aTicks, aLabels, false);
makePanel('b', [lineDS('p13', series(p13, wStep), BLUE, 1.5, 2), lineDS('p23', series(p23, wStep), GREEN, 1.5, 1)], -50, 50, bTicks, bLabels, false);
makePanel('c', [dotDS('N', pairs(kwN), BLUE, 4, 2), dotDS('M', pairs(kwM), DOTGREEN, 4, 1)], -0.0195, 0.0201, cTicks, cLabels, false);
makePanel('d', [dotDS('lambda', pairs(lamInv), '#000', 3.8, 1)], 0, 5, dTicks, dLabels, false);
makePanel('e', [lineDS('dn', series(dn, wStep), BLUE, 1.6, 1)], -5, 5, eTicks, eLabels, false);
makePanel('f', [lineDS('N', series(dndEN, wStep), BLUE, 1.3, 2), lineDS('M', series(dndEM, wStep), GREEN, 1.3, 1)], -61.3, 93.1, fTicks, fLabels, true);

// ---------------- OVERLAY (band, labels, legends, annotations) ----------------
const bx0 = chA.$left + chA.scales.x.getPixelForValue(bandStart);
const bx1 = chA.$left + chA.scales.x.getPixelForValue(bandEnd);
const ay = 135;
const letters = ['a','b','c','d','e','f'].map(k => `<text x="230" y="${P[k][0] + 53}" font-size="33">${k})</text>`).join('');
const svg = `
<svg xmlns="http://www.w3.org/2000/svg" width="1683" height="1337" style="position:absolute;left:0;top:0;pointer-events:none" font-family="Liberation Sans, Arial, sans-serif" fill="#000">
<rect x="${bx0}" y="33" width="${bx1 - bx0}" height="1214" fill="rgb(145,182,103)" fill-opacity="0.6"/>
<text x="185" y="23" font-size="14" textLength="583" lengthAdjust="spacingAndGlyphs" style="white-space:pre">p1044<tspan dy="4" font-size="10">a</tspan><tspan dy="-4">  29-Sep-2004 23:03:14. s/c2  p13-&gt;p42p23-&gt;p41f</tspan><tspan dy="4" font-size="10">filter</tspan><tspan dy="-4">=[25 120] Hz.</tspan></text>
${letters}
<g font-size="38">
<text transform="translate(76,133) rotate(-90)" text-anchor="middle" style="white-space:pre">N<tspan dy="9" font-size="28">Vps</tspan><tspan dy="-9"> [cm</tspan><tspan dy="-15" font-size="27">&#8722;3</tspan><tspan dy="15">]</tspan></text>
<text transform="translate(77,339) rotate(-90)" text-anchor="middle" font-size="37" style="white-space:pre">E<tspan dy="9" font-size="27">f</tspan><tspan dy="-9"> [mV/m]</tspan></text>
<text transform="translate(45,541) rotate(-90)" text-anchor="middle" font-size="33" style="white-space:pre">k/&#969; [s/km]</text>
<text transform="translate(114,752) rotate(-90)" text-anchor="middle" font-size="34" style="white-space:pre"><tspan font-size="40">&#955;</tspan><tspan dy="-14" font-size="25">&#8722;1</tspan><tspan dy="14"> [1/km]</tspan></text>
<text transform="translate(94,950) rotate(-90)" text-anchor="middle" font-size="36" style="white-space:pre">dn [cm<tspan dy="-14" font-size="26">&#8722;3</tspan><tspan dy="14">]</tspan></text>
<text transform="translate(75,1152) rotate(-90)" text-anchor="middle" font-size="34" style="white-space:pre">dn dE [cc mV/m]</text>
</g>
<text x="-3" y="1300" font-size="30" fill="#888">(</text>
<text x="-2" y="1228" font-size="20" fill="#888">-</text>
<rect x="1503.5" y="256.5" width="173" height="86" fill="#fff" stroke="#000" stroke-width="1.2"/>
<line x1="1522" y1="283" x2="1578" y2="283" stroke="${BLUE}" stroke-width="1.5"/>
<line x1="1522" y1="320" x2="1578" y2="320" stroke="${GREEN}" stroke-width="1.5"/>
<text x="1600" y="295" font-size="33">p13</text>
<text x="1600" y="332" font-size="33">p23</text>
<rect x="1531.5" y="460.5" width="145" height="85" fill="#fff" stroke="#000" stroke-width="1.2"/>
<circle cx="1579" cy="483" r="3.6" fill="${BLUE}"/>
<circle cx="1579" cy="522" r="3.6" fill="${DOTGREEN}"/>
<text x="1628" y="495" font-size="33">N</text>
<text x="1628" y="534" font-size="33">M</text>
<rect x="1531.5" y="1068.5" width="145" height="87" fill="#fff" stroke="#000" stroke-width="1.2"/>
<line x1="1551" y1="1093" x2="1608" y2="1093" stroke="${BLUE}" stroke-width="1.5"/>
<line x1="1551" y1="1132" x2="1608" y2="1132" stroke="${GREEN}" stroke-width="1.5"/>
<text x="1628" y="1105" font-size="33">N</text>
<text x="1628" y="1144" font-size="33">M</text>
<g font-family="DejaVu Sans, Verdana, sans-serif">
<text transform="translate(897,102) scale(0.82,1)" font-size="66">several</text>
<text transform="translate(1122,102) scale(0.88,1)" font-size="84" font-family="DejaVu Serif, serif">&#955;</text>
<text transform="translate(1169,127) scale(0.8,1)" font-size="58">e</text>
<line x1="${bx0 + 8}" y1="${ay}" x2="${bx1 - 8}" y2="${ay}" stroke="#000" stroke-width="2.6"/>
<polygon points="${bx0 + 1},${ay} ${bx0 + 17},${ay - 6.5} ${bx0 + 17},${ay + 6.5}" fill="#000"/>
<polygon points="${bx1 - 1},${ay} ${bx1 - 17},${ay - 6.5} ${bx1 - 17},${ay + 6.5}" fill="#000"/>
<text transform="translate(380,737) scale(0.88,1)" font-size="86" style="white-space:pre">k&#961;<tspan font-size="56" dy="27">e</tspan><tspan dy="-27">~1 (&#955;~4 </tspan><tspan font-size="64">km</tspan>)</text>
<text transform="translate(404,1128) scale(0.85,1)" font-size="84">&lt;&#948;<tspan font-weight="bold">E</tspan>*&#948;n&gt;&#8800;0</text>
</g>
</svg>`;
root.insertAdjacentHTML('beforeend', svg);
</script>
</body></html>
